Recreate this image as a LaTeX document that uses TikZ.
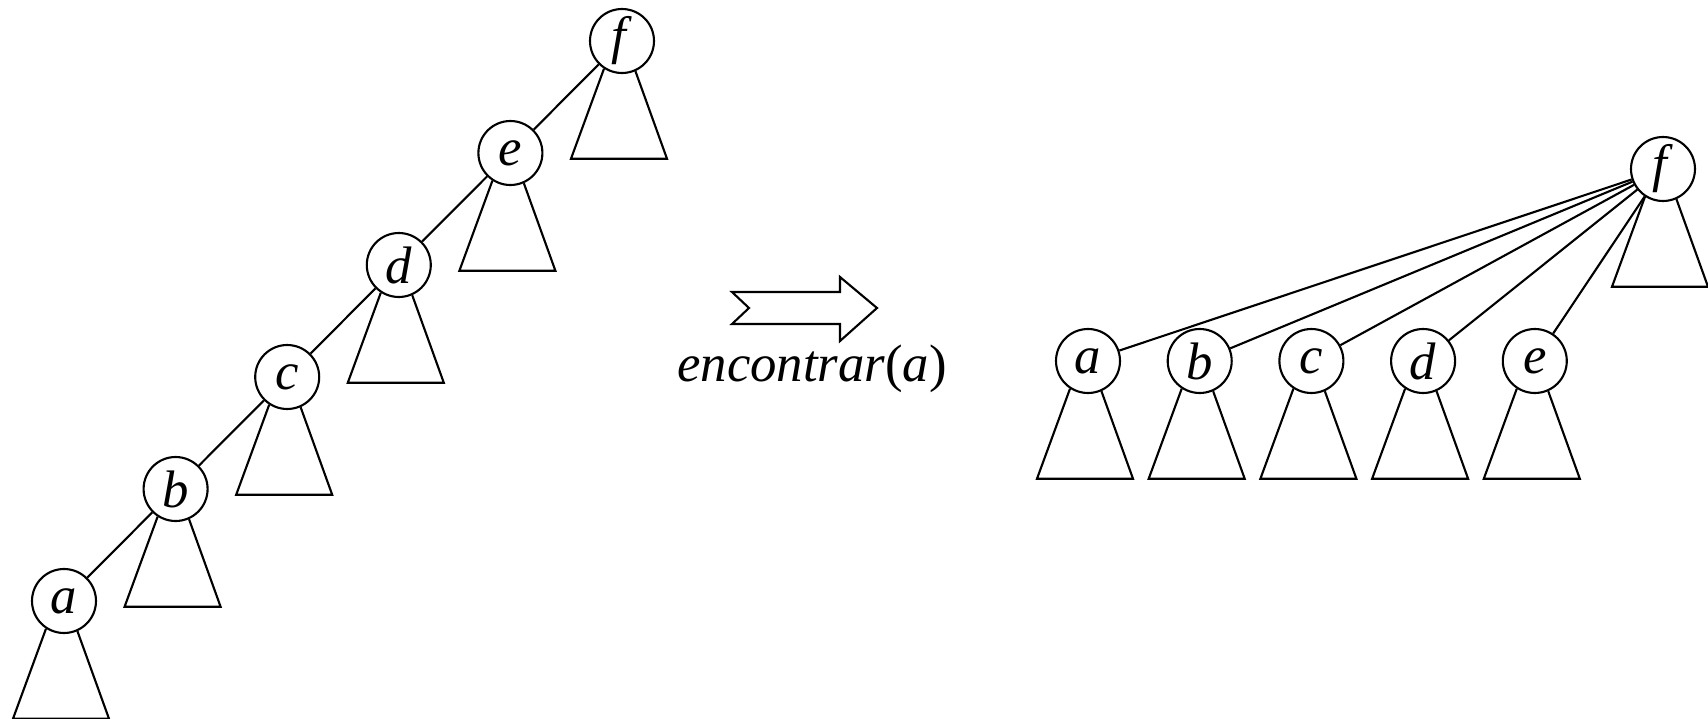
\documentclass[tikz,border=0pt]{standalone}
\usepackage{fontspec}
\setmainfont{Liberation Serif}
\newcommand{\subarbol}[1]{\draw (#1.237) -- ++(-0.33,-0.9) -- ++(0.96,0) -- (#1.294);}

\begin{document}
\begin{tikzpicture}[font=\fontsize{15}{18}\selectfont, line width=0.6pt,
	nodo/.style={circle,draw,minimum size=6.4mm,inner sep=0pt}]
	\useasboundingbox (0,0) rectangle (17.08,7.18);
	% arbol antes
	\foreach \n [count=\i from 0] in {a,b,c,d,e,f}
		\node[nodo] (l\n) at (0.64+1.116*\i,1.17+1.12*\i) {\textit{\n}};
	\foreach \n/\m in {a/b,b/c,c/d,d/e,e/f}
		\draw (l\n) -- (l\m);
	\foreach \n in {a,b,c,d,e,f}
		{\subarbol{l\n}}
	% flecha
	\draw (7.32,4.26) -- (8.40,4.26) -- (8.40,4.41) -- (8.77,4.10) -- (8.40,3.77)
		-- (8.40,3.94) -- (7.32,3.94) -- (7.49,4.10) -- cycle;
	\node[anchor=base] (op) at (8.12,3.37) {\textit{encontrar}(\textit{a})};
	% arbol despues
	\node[nodo] (rf) at (16.63,5.49) {\textit{f}};
	\foreach \n [count=\i from 0] in {a,b,c,d,e}
		\node[nodo] (r\n) at (10.88+1.117*\i,3.57) {\textit{\n}};
	\foreach \n in {a,b,c,d,e}
		\draw (r\n) -- (rf);
	\foreach \n in {a,b,c,d,e,f}
		{\subarbol{r\n}}
\end{tikzpicture}
\end{document}
